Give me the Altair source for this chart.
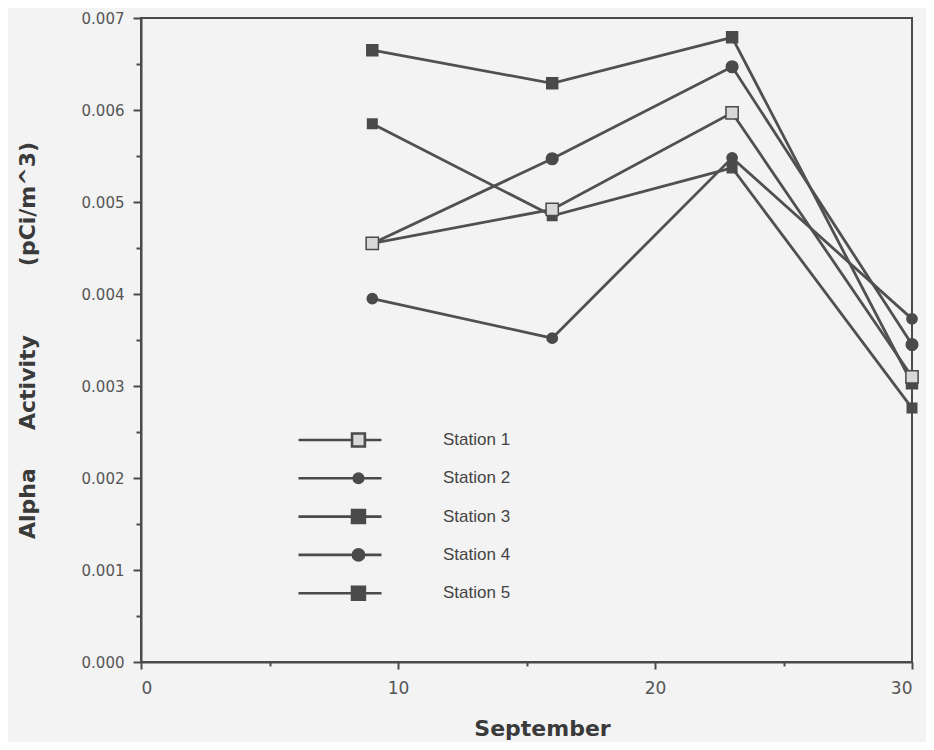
import altair as alt
import pandas as pd

days = [9, 16, 23, 30]
stations = ["Station 1", "Station 2", "Station 3", "Station 4", "Station 5"]
s1 = [0.00455, 0.00492, 0.00597, 0.00310]
s2 = [0.00455, 0.00547, 0.00647, 0.00345]
s3 = [0.00665, 0.00629, 0.00679, 0.00303]
s4 = [0.00395, 0.00352, 0.00548, 0.00373]
s5 = [0.00585, 0.00485, 0.00537, 0.00276]
series = [s1, s2, s3, s4, s5]

rows = []
for name, vals in zip(stations, series):
    for d, v in zip(days, vals):
        rows.append({"day": d, "value": v, "station": name, "entry": name})
df = pd.DataFrame(rows)

INK = "#4a4a4a"
BG = "#f3f3f3"
NB = "\u00a0"

# custom legend symbols: a line with the station's marker on it
def sq(a, b, h):
    return f"M-1,0H{a}M{b},0H1M{a},-{h}H{b}V{h}H{a}Z"

def circ(a, b):
    r = round((b - a) / 2, 3)
    return f"M-1,0H{a}M{b},0H1M{a},0A{r},{r} 0 1,0 {b},0A{r},{r} 0 1,0 {a},0Z"

legend_paths = [
    sq(0.29, 0.60, 0.155),
    circ(0.33, 0.56),
    sq(0.29, 0.60, 0.155),
    circ(0.31, 0.58),
    sq(0.29, 0.60, 0.155),
]
fills = ["#d8d8d8", INK, INK, INK, INK]

x_enc = alt.X(
    "day:Q",
    scale=alt.Scale(domain=[0, 30], nice=False),
    axis=alt.Axis(
        values=[0, 5, 10, 15, 20, 25, 30],
        labelExpr="datum.value % 10 == 0 ? datum.value : ''",
        tickSize={"condition": {"test": "datum.value % 10 == 0", "value": 7}, "value": 4},
        title="September",
        titleFont="DejaVu Sans",
        titleFontWeight="bold",
        titleFontSize=22,
        titleColor="#3a3a3a",
        titlePadding=22,
        titleX=401,
        labelFont="DejaVu Sans",
        labelFontSize=17,
        labelColor="#555555",
        labelPadding=11,
    ),
)
y_enc = alt.Y(
    "value:Q",
    scale=alt.Scale(domain=[0, 0.007], nice=False),
    axis=alt.Axis(
        values=[i * 0.0005 for i in range(15)],
        labelExpr="round(datum.value * 2000) % 2 == 0 ? format(datum.value, '.3f') : ''",
        tickSize={"condition": {"test": "round(datum.value * 2000) % 2 == 0", "value": 8}, "value": 5},
        title="Alpha" + NB * 5 + "Activity" + NB * 9 + "(pCi/m^3)",
        titleFont="DejaVu Sans",
        titleFontWeight="bold",
        titleFontSize=22,
        titleColor="#3a3a3a",
        titlePadding=42,
        labelFont="DejaVu Sans",
        labelFontSize=15,
        labelColor="#555555",
        labelPadding=9,
    ),
)

lines = alt.Chart(df).mark_line(color="#505050", strokeWidth=2.8).encode(
    x=x_enc, y=y_enc, detail="station:N"
)

points = alt.Chart(df).mark_point(filled=False, strokeWidth=1.5, stroke=INK, opacity=1).encode(
    x="day:Q",
    y="value:Q",
    shape=alt.Shape("station:N", scale=alt.Scale(domain=stations,
                    range=["square", "circle", "square", "circle", "square"]), legend=None),
    fill=alt.Fill("station:N", scale=alt.Scale(domain=stations, range=fills), legend=None),
    size=alt.Size("station:N", scale=alt.Scale(domain=stations, range=[150, 90, 160, 100, 160]), legend=None),
    order=alt.Order("station:N", sort="descending"),
)

legend_cfg = dict(
    title=None, orient="none", legendX=156, legendY=404,
    symbolSize=83 * 83, clipHeight=36, rowPadding=2.3,
    symbolStrokeColor=INK, symbolStrokeWidth=2.6,
    labelFont="Liberation Sans", labelFontSize=17, labelColor="#444444",
    labelOffset=60, padding=0,
)

legend_layer = alt.Chart(df).transform_filter("datum.day < 0").mark_point(
    filled=False, opacity=1, strokeWidth=2.6
).encode(
    x="day:Q",
    y="value:Q",
    shape=alt.Shape("entry:N", scale=alt.Scale(domain=stations, range=legend_paths),
                    legend=alt.Legend(**legend_cfg)),
    fill=alt.Fill("entry:N", scale=alt.Scale(domain=stations, range=fills),
                  legend=alt.Legend(**legend_cfg)),
    stroke=alt.Stroke("entry:N", scale=alt.Scale(domain=stations, range=[INK] * 5),
                      legend=alt.Legend(**legend_cfg)),
)

chart = alt.layer(lines, points, legend_layer).resolve_scale(
    shape="independent", fill="independent", size="independent", stroke="independent"
).properties(
    width=771, height=644,
    padding={"left": 133, "top": 10, "right": 14, "bottom": 80},
    autosize=alt.AutoSizeParams(type="none"),
    background=BG,
).configure_view(
    stroke=INK, strokeWidth=2
).configure_axis(
    domainColor=INK, domainWidth=2, tickColor=INK, tickWidth=2, grid=False
)

chart.save("out.html", embed_options={"renderer": "svg", "actions": False})
